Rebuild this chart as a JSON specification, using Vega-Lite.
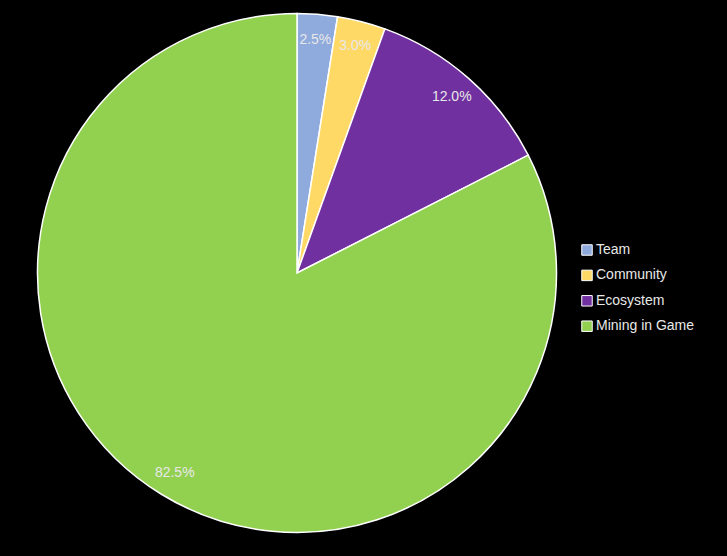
{
  "$schema": "https://vega.github.io/schema/vega-lite/v6.json",
  "width": 594,
  "height": 546,
  "padding": {"left": 0, "top": 0, "right": 133, "bottom": 10},
  "autosize": {"type": "none"},
  "background": "#000000",
  "config": {"view": {"stroke": null}},
  "data": {
    "values": [
      {"category": "Team", "value": 2.5, "label": "2.5%", "order": 1},
      {"category": "Community", "value": 3.0, "label": "3.0%", "order": 2},
      {"category": "Ecosystem", "value": 12.0, "label": "12.0%", "order": 3},
      {"category": "Mining in Game", "value": 82.5, "label": "82.5%", "order": 4}
    ]
  },
  "encoding": {
    "theta": {"field": "value", "type": "quantitative", "stack": true},
    "order": {"field": "order", "type": "quantitative"},
    "color": {
      "field": "category",
      "type": "nominal",
      "sort": ["Team", "Community", "Ecosystem", "Mining in Game"],
      "scale": {
        "domain": ["Team", "Community", "Ecosystem", "Mining in Game"],
        "range": ["#8FAADC", "#FFD966", "#7030A0", "#92D050"]
      },
      "legend": {
        "title": null,
        "orient": "none",
        "legendX": 580,
        "legendY": 243,
        "symbolType": "square",
        "symbolSize": 110,
        "symbolStrokeColor": "#ffffff",
        "symbolStrokeWidth": 1,
        "symbolOpacity": 1,
        "labelColor": "#e8e8e8",
        "labelFont": "Liberation Sans",
        "labelFontSize": 14,
        "labelOffset": 2,
        "labelLimit": 200,
        "rowPadding": 9.4
      }
    }
  },
  "layer": [
    {
      "mark": {"type": "arc", "outerRadius": 259.5, "stroke": "#ffffff", "strokeWidth": 1.5}
    },
    {
      "mark": {"type": "text", "radius": 234, "fontSize": 14, "font": "Liberation Sans"},
      "encoding": {"text": {"field": "label", "type": "nominal"}, "color": {"value": "#e8e8e8"}}
    }
  ]
}
